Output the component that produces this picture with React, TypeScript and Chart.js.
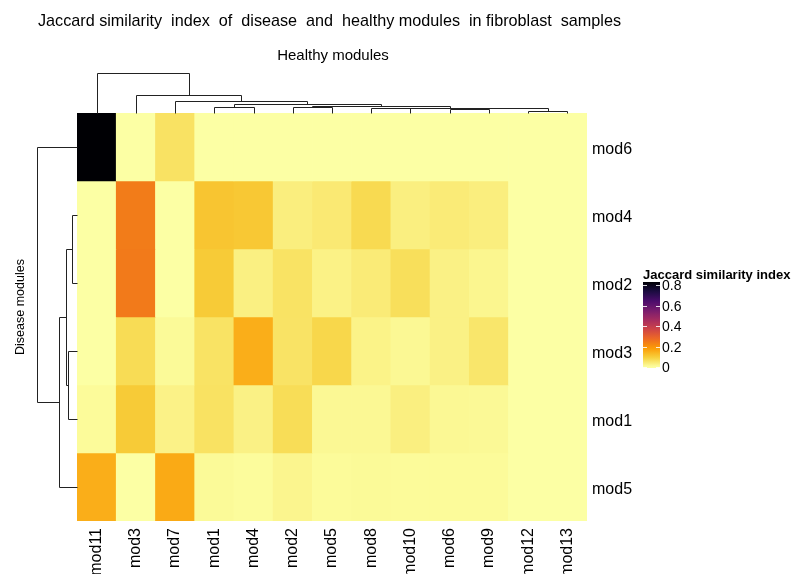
import React, { useEffect, useRef } from 'react';
import { Chart, registerables } from 'chart.js';
Chart.register(...registerables);

// ---------- data ----------
const colLabels = ['mod11', 'mod3', 'mod7', 'mod1', 'mod4', 'mod2', 'mod5', 'mod8', 'mod10', 'mod6', 'mod9', 'mod12', 'mod13'];
const rowLabels = ['mod6', 'mod4', 'mod2', 'mod3', 'mod1', 'mod5'];

const rowMod6 = [0.83, 0, 0.058, 0, 0, 0, 0, 0, 0, 0, 0, 0, 0];
const rowMod4 = [0, 0.242, 0, 0.113, 0.108, 0.034, 0.044, 0.074, 0.032, 0.04, 0.034, 0, 0];
const rowMod2 = [0, 0.245, 0, 0.102, 0.03, 0.057, 0.027, 0.04, 0.065, 0.028, 0.019, 0, 0];
const rowMod3 = [0, 0.071, 0.011, 0.057, 0.152, 0.056, 0.08, 0.025, 0.014, 0.028, 0.051, 0, 0];
const rowMod1 = [0.009, 0.102, 0.026, 0.059, 0.028, 0.069, 0.014, 0.014, 0.032, 0.014, 0.0125, 0, 0];
const rowMod5 = [0.152, 0, 0.159, 0.011, 0.007, 0.02, 0.009, 0.011, 0.009, 0.009, 0.009, 0, 0];
const matrix = [rowMod6, rowMod4, rowMod2, rowMod3, rowMod1, rowMod5];

const legendTicks = [0, 0.2, 0.4, 0.6, 0.8];
const legendTickLabels = ['0', '0.2', '0.4', '0.6', '0.8'];
const colorMin = -0.01;
const colorMax = 0.83;

// dendrogram merges (hclust style: negative = leaf, 1-based display order; positive = earlier merge)
const colMergeA = [-4, -6, -8, -10, -12, 4, 3, 2, 1, -3, -2, -1];
const colMergeB = [-5, -7, -9, -11, -13, 5, 6, 7, 8, 9, 10, 11];
const colMergeHeight = [0.158, 0.155, 0.118, 0.093, 0.058, 0.12, 0.1375, 0.175, 0.225, 0.31, 0.4625, 1.0];
const rowMergeA = [-2, -4, 1, 3, -1];
const rowMergeB = [-3, -5, 2, -6, 4];
const rowMergeHeight = [0.125, 0.225, 0.275, 0.45, 1.0];

const titleText = 'Jaccard similarity  index  of  disease  and  healthy modules  in fibroblast  samples';
const colTitle = 'Healthy modules';
const rowTitle = 'Disease modules';
const legendTitle = 'Jaccard similarity index';

// ---------- colour ----------
const INFERNO = ['#000004', '#1b0c41', '#4a0c6b', '#781c6d', '#a52c60', '#cf4446', '#ed6925', '#fb9b06', '#f7d13d', '#fcffa4'];
function hex(h: string) {
  return [parseInt(h.slice(1, 3), 16), parseInt(h.slice(3, 5), 16), parseInt(h.slice(5, 7), 16)];
}
function colorFor(v: number) {
  let t = 1 - v / colorMax;
  t = Math.max(0, Math.min(1, t));
  const p = t * (INFERNO.length - 1);
  const i = Math.min(INFERNO.length - 2, Math.floor(p));
  const f = p - i;
  const a = hex(INFERNO[i]);
  const b = hex(INFERNO[i + 1]);
  const c = a.map((x, k) => Math.round(x + (b[k] - x) * f));
  return `rgb(${c[0]},${c[1]},${c[2]})`;
}

const FONT = '"Liberation Sans", Arial, Helvetica, sans-serif';

function drawDendro(
  ctx: CanvasRenderingContext2D,
  leafPos: number[],
  A: number[],
  B: number[],
  H: number[],
  base: number,
  px: number,
  vertical: boolean
) {
  const pos: number[] = [];
  const hts: number[] = [];
  const node = (k: number) => (k < 0 ? [leafPos[-k - 1], 0] : [pos[k - 1], hts[k - 1]]);
  const line = (p1: number, h1: number, p2: number, h2: number) => {
    const c1 = Math.round(base - h1 * px) + 0.5;
    const c2 = Math.round(base - h2 * px) + 0.5;
    const q1 = Math.round(p1) + 0.5;
    const q2 = Math.round(p2) + 0.5;
    ctx.beginPath();
    if (vertical) {
      ctx.moveTo(q1, c1);
      ctx.lineTo(q2, c2);
    } else {
      ctx.moveTo(c1, q1);
      ctx.lineTo(c2, q2);
    }
    ctx.stroke();
  };
  for (let m = 0; m < A.length; m++) {
    const [pa, ha] = node(A[m]);
    const [pb, hb] = node(B[m]);
    const h = H[m];
    line(pa, ha, pa, h);
    line(pb, hb, pb, h);
    line(pa, h, pb, h);
    pos.push((pa + pb) / 2);
    hts.push(h);
  }
}

const decorPlugin = {
  id: 'decor',
  afterDraw(chart: any) {
    const ctx: CanvasRenderingContext2D = chart.ctx;
    const area = chart.chartArea;
    const xs = chart.scales.x;
    const ys = chart.scales.y;
    ctx.save();
    ctx.strokeStyle = '#222';
    ctx.lineWidth = 1;
    const colLeaf = colLabels.map((_, i) => xs.getPixelForValue(i));
    const rowLeaf = rowLabels.map((_, i) => ys.getPixelForValue(i));
    drawDendro(ctx, colLeaf, colMergeA, colMergeB, colMergeHeight, area.top, 40, true);
    drawDendro(ctx, rowLeaf, rowMergeA, rowMergeB, rowMergeHeight, area.left, 40, false);

    // titles
    ctx.fillStyle = '#000';
    ctx.textBaseline = 'alphabetic';
    ctx.font = `16.2px ${FONT}`;
    ctx.textAlign = 'left';
    ctx.fillText(titleText, 38, 26);
    ctx.font = `15px ${FONT}`;
    ctx.textAlign = 'center';
    ctx.fillText(colTitle, (area.left + area.right) / 2 + 1, 60);
    ctx.save();
    ctx.translate(24, 307);
    ctx.rotate(-Math.PI / 2);
    ctx.font = `12.5px ${FONT}`;
    ctx.fillText(rowTitle, 0, 0);
    ctx.restore();

    // legend
    const lx = 643, lw = 17, top = 282, bottom = 368;
    const vToY = (v: number) => bottom - ((v - colorMin) / (colorMax - colorMin)) * (bottom - top);
    ctx.font = `bold 13px ${FONT}`;
    ctx.textAlign = 'left';
    ctx.fillText(legendTitle, lx, 279);
    const grad = ctx.createLinearGradient(0, bottom, 0, top);
    for (let i = 0; i <= 40; i++) {
      const v = colorMin + ((colorMax - colorMin) * i) / 40;
      grad.addColorStop(i / 40, colorFor(v));
    }
    ctx.fillStyle = grad;
    ctx.fillRect(lx, top, lw, bottom - top);
    ctx.strokeStyle = 'rgba(255,255,255,0.85)';
    legendTicks.forEach((v) => {
      const y = Math.round(vToY(v)) + 0.5;
      ctx.beginPath();
      ctx.moveTo(lx, y);
      ctx.lineTo(lx + 4, y);
      ctx.moveTo(lx + lw - 4, y);
      ctx.lineTo(lx + lw, y);
      ctx.stroke();
    });
    ctx.fillStyle = '#000';
    ctx.font = `14px ${FONT}`;
    ctx.textBaseline = 'middle';
    legendTicks.forEach((v, i) => {
      ctx.fillText(legendTickLabels[i], lx + lw + 2, vToY(v) + 1.5);
    });
    ctx.restore();
  },
};

export default function App() {
  const ref = useRef<HTMLCanvasElement | null>(null);
  useEffect(() => {
    if (!ref.current) return;
    Chart.defaults.font.family = FONT;
    const nRows = rowLabels.length;
    const datasets = matrix.map((row, r) => ({
      data: row.map(() => [nRows - 1 - r, nRows - r]),
      backgroundColor: row.map((v) => colorFor(v)),
      borderWidth: 0,
      barPercentage: 1,
      categoryPercentage: 1,
      grouped: false,
      xAxisID: 'x',
      yAxisID: 'yb',
    }));
    const chart = new Chart(ref.current, {
      type: 'bar',
      data: { labels: colLabels, datasets: datasets as any },
      options: {
        animation: false,
        responsive: false,
        events: [],
        layout: { padding: { left: 77, top: 113, right: 0, bottom: 0 } },
        plugins: { legend: { display: false }, tooltip: { enabled: false }, title: { display: false } },
        scales: {
          x: {
            type: 'category',
            offset: true,
            grid: { display: false, drawTicks: false },
            border: { display: false },
            ticks: { autoSkip: false, minRotation: 90, maxRotation: 90, padding: 7, color: '#000', font: { size: 16 } },
            afterFit: (s: any) => {
              s.height = 53;
            },
          },
          y: {
            type: 'category',
            labels: rowLabels,
            position: 'right',
            offset: true,
            grid: { display: false, drawTicks: false },
            border: { display: false },
            ticks: { padding: 5, labelOffset: 3, color: '#000', font: { size: 16 } },
            afterFit: (s: any) => {
              s.width = 210;
            },
          },
          yb: { type: 'linear', min: 0, max: nRows, display: false },
        },
      } as any,
      plugins: [decorPlugin],
    });
    return () => chart.destroy();
  }, []);
  return (
    <div style={{ position: 'absolute', left: 0, top: 0, width: 797, height: 574, background: '#fff' }}>
      <canvas ref={ref} width={797} height={574} style={{ display: 'block' }} />
    </div>
  );
}
